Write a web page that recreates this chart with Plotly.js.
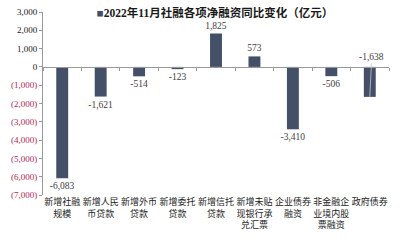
<!DOCTYPE html>
<html>
<head>
<meta charset="utf-8">
<script src="https://cdn.plot.ly/plotly-3.0.1.min.js"></script>
<style>html,body{margin:0;padding:0;background:#fff;}#chart{width:408px;height:240px;}</style>
</head>
<body>
<div id="chart"></div>
<script>
const categories = ["新增社融<br>规模", "新增人民<br>币贷款", "新增外币<br>贷款", "新增委托<br>贷款", "新增信托<br>贷款", "新增未贴<br>现银行承<br>兑汇票", "企业债券<br>融资", "非金融企<br>业境内股<br>票融资", "政府债券"];
const values = [-6083, -1621, -514, -123, 1825, 573, -3410, -506, -1638];
const seriesName = "2022年11月社融各项净融资同比变化（亿元）";
const yTickValues = [3000, 2000, 1000, 0, -1000, -2000, -3000, -4000, -5000, -6000, -7000];

const fmt = v => (v < 0 ? "-" : "") + Math.abs(v).toLocaleString("en-US");
const yTickText = yTickValues.map(v => v < 0
  ? '<span style="color:#b5274f">(' + Math.abs(v).toLocaleString("en-US") + ')</span>'
  : v.toLocaleString("en-US"));

const lastIdx = values.length - 1;
const serif = "Liberation Serif, 'Noto Sans CJK SC', serif";

const barTrace = {
  type: "bar",
  x: categories,
  y: values,
  name: seriesName,
  marker: {color: "#444f68"},
  text: values.map((v, i) => i === lastIdx ? "" : fmt(v)),
  textposition: "outside",
  constraintext: "none",
  cliponaxis: false,
  textfont: {family: serif, size: 9.5, color: "#404040"},
  showlegend: false,
  hoverinfo: "x+y"
};

const tickTrace = {
  type: "scatter",
  mode: "none",
  x: categories,
  y: values,
  xaxis: "x2",
  yaxis: "y",
  showlegend: false,
  hoverinfo: "skip"
};

const layout = {
  width: 408,
  height: 240,
  margin: {l: 43, r: 19, t: 12, b: 45},
  paper_bgcolor: "#fff",
  plot_bgcolor: "#fff",
  bargap: 0.69,
  title: {
    text: "<b><span style=\"color:#444f68\">■</span>" + seriesName + "</b>",
    font: {family: serif, size: 11.5, color: "#1a1a1a"},
    x: 0.527, xanchor: "center",
    y: 0.945, yanchor: "middle"
  },
  xaxis: {
    type: "category",
    showline: false,
    ticks: "",
    showgrid: false,
    zeroline: false,
    tickfont: {family: "'Noto Sans CJK SC', serif", size: 9, color: "#222"},
    tickangle: 0,
    range: [-0.5, 8.5]
  },
  xaxis2: {
    type: "category",
    overlaying: "x",
    anchor: "free",
    position: 0.7,
    side: "bottom",
    showline: true,
    linecolor: "#999",
    linewidth: 1,
    ticks: "outside",
    tickson: "boundaries",
    ticklen: 3,
    tickcolor: "#999",
    showticklabels: false,
    showgrid: false,
    range: [-0.5, 8.5]
  },
  yaxis: {
    range: [-7000, 3000],
    tickvals: yTickValues,
    ticktext: yTickText,
    showline: true,
    linecolor: "#999",
    ticks: "outside",
    ticklen: 3,
    tickcolor: "#999",
    showgrid: false,
    zeroline: false,
    tickfont: {family: serif, size: 9, color: "#222"}
  },
  annotations: [{
    x: categories[lastIdx],
    y: values[lastIdx],
    xref: "x",
    yref: "y",
    text: fmt(values[lastIdx]),
    showarrow: true,
    arrowhead: 0,
    arrowwidth: 0.8,
    arrowcolor: "#c8c8c8",
    ax: 2,
    ay: -40,
    font: {family: serif, size: 9.5, color: "#404040"}
  }]
};

Plotly.newPlot("chart", [barTrace, tickTrace], layout, {displayModeBar: false, staticPlot: true});
</script>
</body>
</html>
